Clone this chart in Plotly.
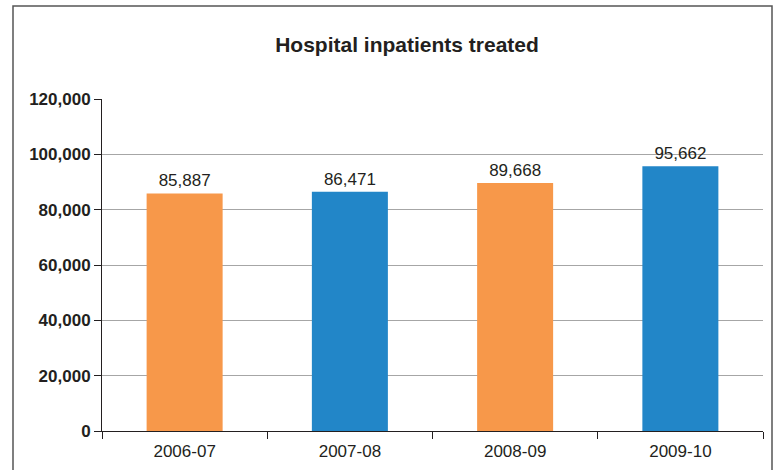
import plotly.graph_objects as go

categories = ["2006-07", "2007-08", "2008-09", "2009-10"]
values = [85887, 86471, 89668, 95662]
value_labels = ["85,887", "86,471", "89,668", "95,662"]
bar_colors = ["#F7984A", "#2286C8", "#F7984A", "#2286C8"]
y_ticks = [0, 20000, 40000, 60000, 80000, 100000, 120000]
y_tick_labels = ["0", "20,000", "40,000", "60,000", "80,000", "100,000", "120,000"]

FONT = "Liberation Sans, Arial, sans-serif"
TXT = "#231F20"

fig = go.Figure()
fig.add_trace(go.Bar(
    x=categories, y=values, marker=dict(color=bar_colors, line=dict(width=0)),
    width=0.46, text=value_labels, textposition="outside", cliponaxis=False,
    textfont=dict(family=FONT, size=17, color=TXT), hoverinfo="skip",
))

L, R, T, B = 102, 20, 99, 39
W, H = 783, 470
pw, ph = W - L - R, H - T - B

def py(p):
    return (H - B - p) / ph

def px(p):
    return (p - L) / pw

fig.update_layout(
    width=W, height=H, margin=dict(l=L, r=R, t=T, b=B, autoexpand=False),
    paper_bgcolor="white", plot_bgcolor="white", showlegend=False,
    title=dict(text="<b>Hospital inpatients treated</b>", x=407 / W, xanchor="center",
               y=1 - 45 / H, yanchor="middle",
               font=dict(family=FONT, size=21, color=TXT)),
    font=dict(family=FONT, color=TXT),
)
fig.update_yaxes(
    range=[0, 120000], tickvals=y_ticks, ticktext=["<b>%s</b>" % t for t in y_tick_labels],
    showgrid=True, gridcolor="#A6A6A6", gridwidth=1.3, zeroline=False,
    showline=True, linecolor=TXT, linewidth=1, ticks="outside", ticklen=7,
    tickcolor=TXT, tickfont=dict(family=FONT, size=17, color=TXT), automargin=False,
)
fig.update_xaxes(
    type="category", range=[-0.5, 3.5], showline=True, linecolor=TXT, linewidth=1.2,
    ticks="outside", ticklen=7, tickcolor=TXT, tickson="boundaries", ticklabelstandoff=4,
    tickfont=dict(family=FONT, size=17, color=TXT), showgrid=False, automargin=False,
)
fig.add_shape(type="rect", xref="paper", yref="paper",
              x0=px(13), x1=px(772), y0=py(480), y1=py(6),
              line=dict(color="#555555", width=1.5), fillcolor="rgba(0,0,0,0)", layer="below")

fig.write_html("out.html")
